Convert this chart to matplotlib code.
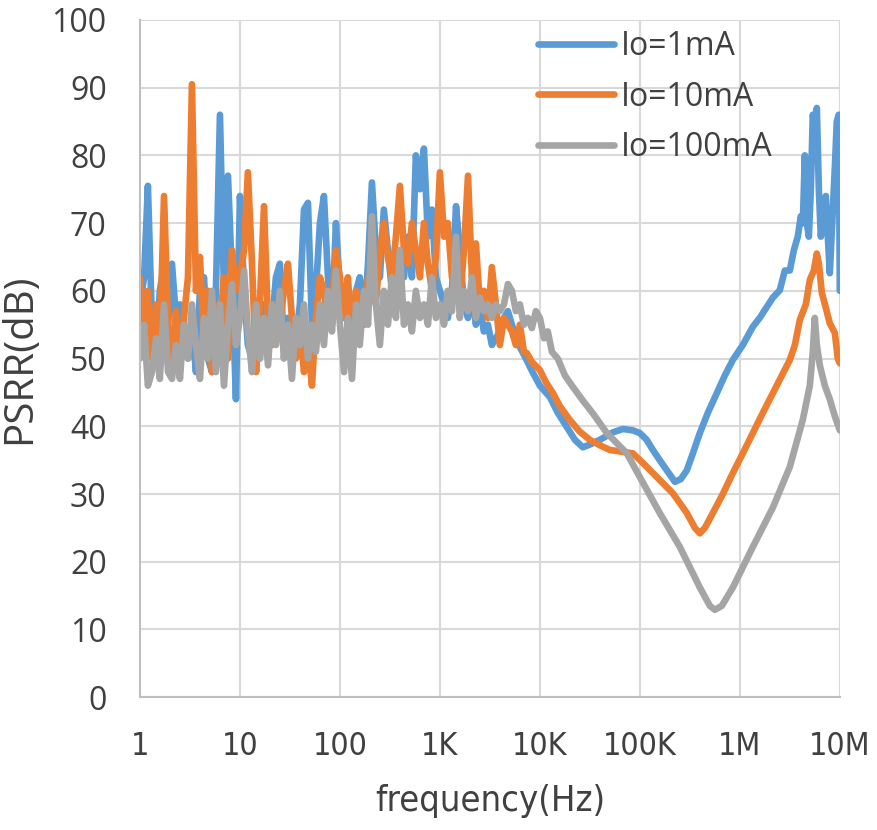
import matplotlib
matplotlib.use("Agg")
import matplotlib.pyplot as plt
from matplotlib import font_manager

# frequency grid of the noisy low band (Hz), shared by the three curves
freq_low = [1.00, 1.10, 1.20, 1.32, 1.45, 1.58, 1.74, 1.91, 2.09, 2.29, 2.51, 2.75, 3.02, 3.31, 3.63,
            3.98, 4.37, 4.79, 5.25, 5.75, 6.31, 6.92, 7.59, 8.32, 9.12,
            10.0, 11.0, 12.0, 13.2, 14.5, 15.8, 17.4, 19.1, 20.9, 22.9, 25.1, 27.5, 30.2, 33.1, 36.3,
            39.8, 43.7, 47.9, 52.5, 57.5, 63.1, 69.2, 75.9, 83.2, 91.2,
            100, 110, 120, 132, 145, 158, 174, 191, 209, 229, 251, 275, 302, 331, 363,
            398, 437, 479, 525, 575, 631, 692, 759, 832, 912,
            1000, 1100, 1200, 1320, 1450, 1580, 1740, 1910, 2090, 2290, 2510, 2750, 3020, 3310, 3630,
            3980, 4370, 4790]

psrr_1ma_low = [58, 62, 75.5, 55, 50, 60, 64, 55, 64, 56, 58, 52, 50, 55, 48,
                60, 62, 50, 48, 60, 86, 60, 77, 62, 44,
                74, 60, 52, 50, 55, 50, 58, 53, 55, 62, 64, 52, 56, 55, 53,
                58, 72, 73, 55, 60, 70, 74, 62, 55, 70,
                60, 58, 55, 52, 60, 62, 55, 64, 76, 66, 62, 72, 66, 60, 64,
                66, 62, 68, 62, 80, 75, 81, 68, 72, 62,
                60, 58, 56, 60, 72.5, 66, 58, 56, 60, 55, 58, 54, 55, 52, 53,
                54, 56, 57]

psrr_10ma_low = [62, 55, 60, 50, 58, 52, 74, 55, 48, 57, 50, 56, 62, 90.5, 60,
                 65, 52, 60, 48, 58, 55, 62, 50, 66, 60,
                 62, 66, 77.5, 64, 48, 58, 72.5, 55, 52, 58, 55, 60, 64, 56, 50,
                 55, 48, 52, 46, 56, 62, 60, 55, 58, 66,
                 62, 56, 62, 53, 60, 58, 55, 62, 60, 58, 66, 70, 65, 62, 68,
                 75.5, 66, 64, 70, 66, 62, 70, 64, 60, 65,
                 77.5, 68, 70, 62, 60, 58, 66, 77, 62, 67, 58, 60, 56, 63.5, 58,
                 52, 56, 55]

psrr_100ma_low = [50, 55, 46, 48, 53, 47, 58, 48, 47, 52, 47, 55, 50, 58, 52,
                  47, 56, 50, 60, 48, 58, 46, 55, 61, 52,
                  56, 63, 54, 48, 58, 50, 56, 49, 58, 52, 60, 50, 55, 47, 56,
                  52, 58, 50, 55, 51, 58, 52, 60, 54, 63,
                  55, 48, 56, 47, 58, 52, 60, 55, 71, 58, 52, 60, 55, 62, 56,
                  66, 55, 58, 54, 60, 56, 58, 55, 62, 56,
                  58, 55, 60, 57, 68, 56, 60, 57, 62, 56, 59, 57, 58, 56, 58,
                  57, 58, 61]

# upper band, read curve by curve
freq_1ma_hi = [5250, 5750, 6310, 7240, 8510, 10000, 12600, 15100, 18600, 22400, 26900, 31600, 39800,
               53700, 67600, 85100, 100000, 117000, 135000, 158000, 186000, 224000, 257000, 295000,
               339000, 398000, 479000, 589000, 708000, 851000, 1070000, 1350000, 1580000, 1860000,
               2140000, 2510000, 2820000, 3160000, 3470000, 3800000, 4070000, 4270000, 4470000,
               4680000, 4900000, 5130000, 5370000, 5620000, 5890000, 6170000, 6460000, 6920000,
               7240000, 7590000, 7940000, 8510000, 8910000, 9330000, 9770000, 10000000]
psrr_1ma_hi = [55, 53, 51.7, 50, 47.9, 46, 44.3, 42, 39.9, 38, 36.9, 37.3, 38,
               39.1, 39.6, 39.4, 39, 38, 36.5, 35, 33.5, 31.8, 32.2, 33.5,
               36, 39, 42, 44.9, 47.5, 49.8, 52, 54.7, 56, 57.6,
               59, 60.1, 63, 63, 66, 68, 71, 70, 80,
               70, 68, 75, 86, 84, 87, 75, 68, 72,
               74, 68, 62.6, 72, 78, 85, 86, 60]

freq_10ma_hi = [5250, 5750, 6310, 6920, 7410, 8320, 10000, 11500, 13500, 15800, 20000, 25100, 31600,
                39800, 50100, 63100, 85100, 107000, 135000, 170000, 214000, 295000, 355000, 398000,
                447000, 537000, 676000, 851000, 1070000, 1350000, 1700000, 2140000, 2630000, 3160000,
                3550000, 3980000, 4570000, 5010000, 5500000, 5890000, 6170000, 6610000, 7240000,
                7940000, 8910000, 9550000, 10000000]
psrr_10ma_hi = [54, 52, 55, 51, 50.8, 49.5, 48.3, 46.5, 44.9, 43, 40.9, 39.2, 38,
                37.2, 36.5, 36.3, 36, 34.6, 33.1, 31.6, 30.1, 27.2, 25, 24.2,
                25, 27.2, 30, 33.1, 36, 39, 42, 44.9, 47.5, 49.8,
                52, 55.7, 58, 61.6, 63, 65.5, 64, 59.7, 57.5,
                55.2, 53.8, 50, 49.3]

freq_100ma_hi = [5250, 5750, 6310, 6920, 7590, 8320, 9120, 10000, 11000, 12000, 13200, 15100, 17800,
                 21400, 26900, 33900, 46800, 74100, 100000, 158000, 251000, 398000, 501000, 562000,
                 661000, 851000, 1350000, 2140000, 3160000, 4270000, 5010000, 5370000, 5620000,
                 5890000, 6310000, 7080000, 7940000, 8910000, 10000000]
psrr_100ma_hi = [60, 57, 58, 55, 56, 54.5, 57, 56, 53, 54, 51, 50, 47.5,
                 45.8, 43.8, 41.9, 39, 36, 32.5, 27.2, 22.2, 16.2, 13.5, 12.9,
                 13.5, 16.2, 22.2, 28, 34, 41, 46, 51, 56,
                 52, 49, 46, 44, 41.5, 39.4]

labels = ["Io=1mA", "Io=10mA", "Io=100mA"]
colors = ["#5B9BD5", "#ED7D31", "#A5A5A5"]
xticks = [1, 10, 100, 1e3, 1e4, 1e5, 1e6, 1e7]
xtick_labels = ["1", "10", "100", "1K", "10K", "100K", "1M", "10M"]

installed = {f.name for f in font_manager.fontManager.ttflist}
if "Liberation Sans Narrow" in installed:
    narrow = dict(fontfamily="Liberation Sans Narrow")
else:
    narrow = dict(fontfamily="DejaVu Sans", fontstretch="condensed")
plt.rcParams["font.family"] = ["Open Sans", "DejaVu Sans"]

fig = plt.figure(figsize=(8.77, 8.30), dpi=100)
ax = fig.add_axes([0.1596, 0.160, 0.798, 0.816])

series = [(freq_low + freq_1ma_hi, psrr_1ma_low + psrr_1ma_hi),
          (freq_low + freq_10ma_hi, psrr_10ma_low + psrr_10ma_hi),
          (freq_low + freq_100ma_hi, psrr_100ma_low + psrr_100ma_hi)]
for (f, v), lab, c in zip(series, labels, colors):
    ax.plot(f, v, color=c, lw=4.8, label=lab, solid_joinstyle="round", solid_capstyle="round")

ax.set_xscale("log")
ax.set_xlim(1, 1e7)
ax.set_ylim(0, 100)
ax.set_yticks(range(0, 101, 10))
ax.set_xticks(xticks)
ax.set_xticklabels(xtick_labels, fontsize=23, color="#404040", **narrow)
ax.minorticks_off()
ax.tick_params(axis="y", labelsize=23, labelcolor="#404040", length=0, pad=24)
ax.tick_params(axis="x", length=0, pad=24)
ax.grid(True, color="#D9D9D9", lw=1.5)
ax.set_axisbelow(True)
for s in ["top", "right"]:
    ax.spines[s].set_visible(False)
for s in ["left", "bottom"]:
    ax.spines[s].set_color("#BFBFBF")
    ax.spines[s].set_linewidth(1.5)

ax.set_ylabel("PSRR(dB)", fontsize=29, color="#404040", labelpad=8)
ax.set_xlabel("frequency(Hz)", fontsize=26, color="#404040", labelpad=16, **narrow)

ax.legend(loc="upper left", bbox_to_anchor=(0.527, 1.028), frameon=False, fontsize=23,
          handlelength=2.4, labelspacing=0.56, handletextpad=0.2, labelcolor="#404040")

fig.savefig("out.png", dpi=100)
